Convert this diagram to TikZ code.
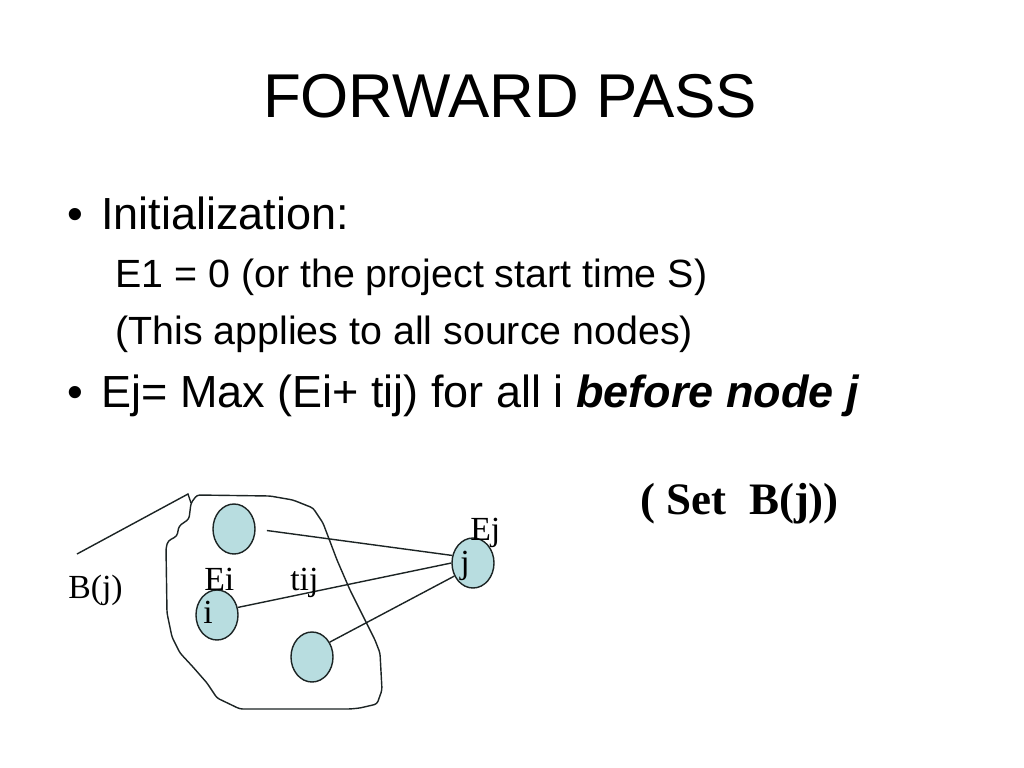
\documentclass[tikz,border=0pt]{standalone}
\usepackage{fontspec}
\setmainfont{Liberation Sans}
\newfontfamily\seriffont{Liberation Serif}
\usetikzlibrary{shapes.geometric}
\definecolor{nodefill}{HTML}{B8DDE0}
\definecolor{inkline}{HTML}{1C2424}

\begin{document}
\begin{tikzpicture}[x=0.025cm, y=-0.025cm,
		txt/.style={anchor=base west, inner sep=0pt},
		lvlone/.style={txt, font=\fontsize{32}{38}\selectfont},
		lvltwo/.style={txt, font=\fontsize{28}{34}\selectfont},
		lbl/.style={txt, font=\seriffont\fontsize{24}{28}\selectfont},
		evt/.style={ellipse, draw=inkline, fill=nodefill, line width=1pt,
			minimum width=1.05cm, minimum height=1.25cm, inner sep=0pt},
		wire/.style={draw=inkline, line width=1pt}]
		\useasboundingbox (0,0) rectangle (1024,768);
		\node[anchor=base, inner sep=0pt, font=\fontsize{44}{52}\selectfont] (title) at (510,118) {FORWARD PASS};
		\node[lvlone, anchor=base] (dotone) at (75,229) {\textbullet};
		\node[lvlone] (init) at (101,229) {Initialization:};
		\node[lvltwo] (eone) at (115,287) {E1 = 0 (or the project start time S)};
		\node[lvltwo] (source) at (115,344) {(This applies to all source nodes)};
		\node[lvlone, anchor=base] (dottwo) at (75,407) {\textbullet};
		\node[lvlone] (rule) at (101,407) {Ej= Max (Ei+ tij) for all i \textbf{\textit{before node j}}};
		% the set B(j)
		\draw[wire, rounded corners=2pt] (197,495) -- (270,496) -- (293,500) -- (313,508) -- (323,523)
			-- (337,560) -- (350,590) -- (360,610) -- (375,640) -- (380,653) -- (382,690) -- (377,704)
			-- (360,708) -- (350,709) -- (240,709) -- (217,698) -- (207,683) -- (193,667) -- (180,653)
			-- (172,637) -- (167,613) -- (166,548) -- (168,541) -- (177,536) -- (179,526) -- (189,519)
			-- (191,503) -- cycle;
		\coordinate (tip) at (188,494);
		\coordinate (tail) at (77,554);
		\draw[wire] (tail) -- (tip) -- (191,503);
		\node[lbl] (setname) at (68,598) {B(j)};
		\node[lbl, font=\seriffont\bfseries\fontsize{32}{36}\selectfont] (settitle) at (640,514) {( Set\ \ B(j))};
		% events
		\node[evt] (ntop) at (234,529) {};
		\node[evt] (ni) at (217,615) {};
		\node[evt] (nbot) at (312,657) {};
		\node[evt] (nj) at (473,563) {};
		\draw[wire, shorten <=8pt] (ntop.east) -- (nj.160);
		\draw[wire] (ni.20) -- (nj.west);
		\draw[wire] (nbot.40) -- (nj.215);
		\node[lbl] (ei) at (204,590) {Ei};
		\node[lbl] (tij) at (290,590) {tij};
		\node[lbl] (ilbl) at (203,623) {i};
		\node[lbl] (ejlbl) at (470,540) {Ej};
		\node[lbl] (jlbl) at (460,573) {j};
	\end{tikzpicture}
\end{document}
